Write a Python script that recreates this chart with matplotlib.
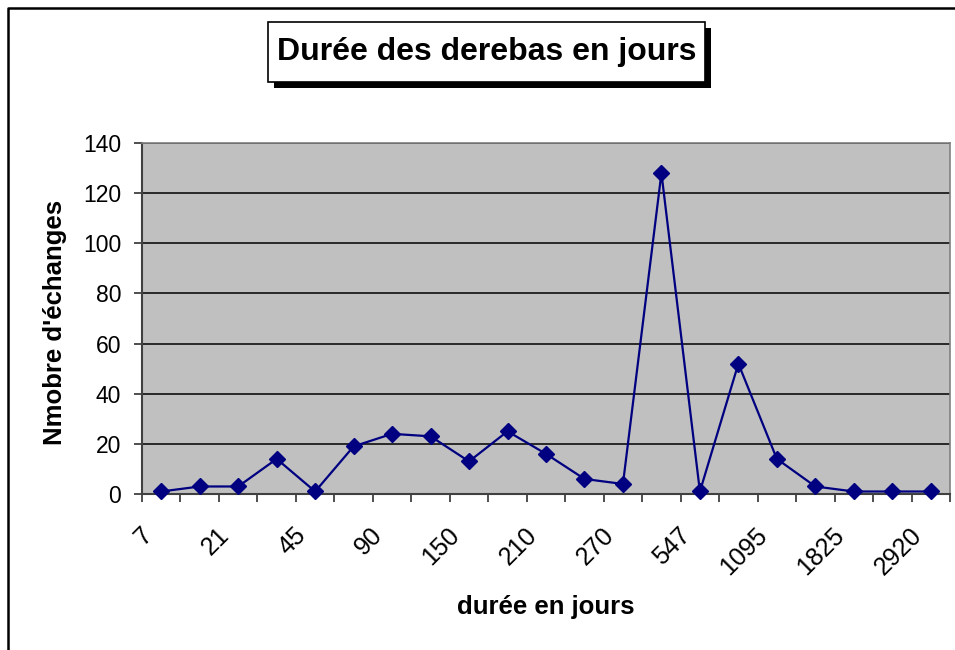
import matplotlib
matplotlib.use("Agg")
import matplotlib.pyplot as plt
import matplotlib.transforms as mtransforms
from matplotlib.patches import Rectangle
from matplotlib.lines import Line2D

plt.rcParams['font.family'] = ['Liberation Sans', 'DejaVu Sans']

# durée (jours) et nombre d'échanges
durees = ['7', '14', '21', '30', '45', '60', '90', '120', '150', '180', '210',
          '240', '270', '365', '547', '730', '1095', '1460', '1825', '2190', '2920']
echanges = [1, 3, 3, 14, 1, 19, 24, 23, 13, 25, 16, 6, 4, 128, 1, 52, 14, 3, 1, 1, 1]
y_ticks = [0, 20, 40, 60, 80, 100, 120, 140]

W, H = 955, 650
fig = plt.figure(figsize=(W / 100, H / 100), dpi=100)
fig.patch.set_facecolor('white')

ax = fig.add_axes([142 / W, 1 - 494 / H, (950 - 142) / W, (494 - 143) / H])
ax.set_facecolor('#C0C0C0')

x = list(range(len(durees)))
ax.plot(x, echanges, color='#000080', linewidth=1.6, marker='D',
        markersize=8.5, markerfacecolor='#000080', markeredgecolor='#000080',
        zorder=3, clip_on=False)

ax.set_xlim(-0.5, len(durees) - 0.5)
ax.set_ylim(0, 140)

# grille horizontale noire
ax.set_yticks(y_ticks)
ax.set_yticklabels([str(v) for v in y_ticks], fontsize=16.5)
ax.yaxis.grid(True, color='black', linewidth=1.1)
ax.set_axisbelow(True)
ax.tick_params(axis='y', direction='out', length=6, width=1.3,
               color='#404040', pad=9)

# graduations aux limites des catégories, étiquettes une sur deux
ax.set_xticks([i - 0.5 for i in range(len(durees) + 1)], minor=True)
ax.set_xticks(x[::2])
ax.set_xticklabels(durees[::2], fontsize=18, rotation=45, ha='right',
                   va='center', rotation_mode='anchor')
ax.tick_params(axis='x', which='minor', direction='out', length=6,
               width=1.3, color='#404040')
ax.tick_params(axis='x', which='major', length=0, pad=27)
shift = mtransforms.ScaledTranslation(-13 / 100, 0, fig.dpi_scale_trans)
for lab in ax.get_xticklabels():
    lab.set_transform(lab.get_transform() + shift)

for side in ('left', 'bottom'):
    ax.spines[side].set_color('#404040')
    ax.spines[side].set_linewidth(1.5)
for side in ('top', 'right'):
    ax.spines[side].set_color('#808080')
    ax.spines[side].set_linewidth(1.2)

fig.text(55 / W, 1 - 322 / H, "Nmobre d'échanges", rotation=90,
         fontsize=18.5, fontweight='bold', ha='center', va='center')
fig.text(546 / W, 1 - 607 / H, 'durée en jours', fontsize=18.5,
         fontweight='bold', ha='center', va='center')

# cadre extérieur du graphique
fig.add_artist(Line2D([8 / W, 8 / W, 1.0], [0.0, 1 - 8 / H, 1 - 8 / H],
                      transform=fig.transFigure, color='black', linewidth=1.8))

# titre encadré avec ombre
bx0, bx1, by0, by1 = 268, 705, 22, 82
fig.add_artist(Rectangle(((bx0 + 6) / W, 1 - (by1 + 6) / H), (bx1 - bx0) / W,
                         (by1 - by0) / H, transform=fig.transFigure,
                         facecolor='black', edgecolor='none'))
fig.add_artist(Rectangle((bx0 / W, 1 - by1 / H), (bx1 - bx0) / W,
                         (by1 - by0) / H, transform=fig.transFigure,
                         facecolor='white', edgecolor='black', linewidth=1.2))
fig.text((bx0 + bx1) / 2 / W, 1 - (by0 + by1) / 2 / H,
         'Durée des derebas en jours', fontsize=23, fontweight='bold',
         ha='center', va='center')

fig.savefig('out.png', dpi=100)
